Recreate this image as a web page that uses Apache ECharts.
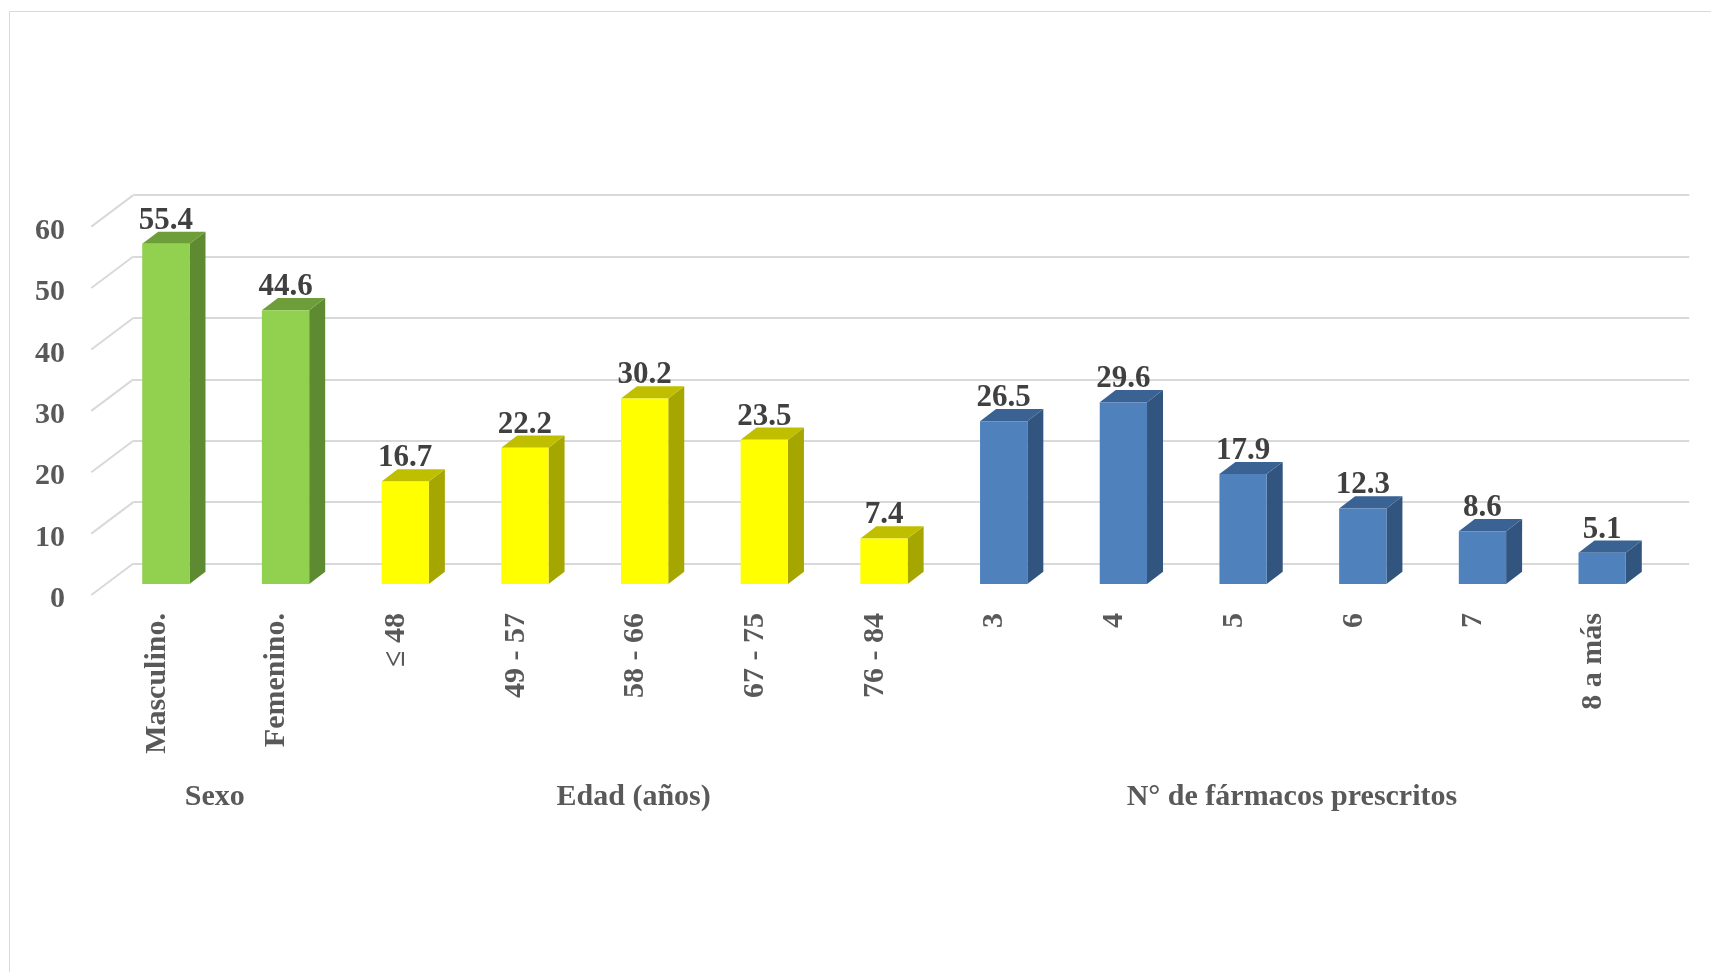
<!DOCTYPE html>
<html>
<head>
<meta charset="utf-8">
<script src="https://cdn.jsdelivr.net/npm/echarts@6/dist/echarts.min.js"></script>
<style>
  html, body { margin: 0; padding: 0; background: #ffffff; }
  #chart { width: 1711px; height: 972px; }
</style>
</head>
<body>
<div id="chart"></div>
<script>
// Categories, values and groups
const categories = ['Masculino.', 'Femenino.', '\u2264 48', '49 - 57', '58 - 66', '67 - 75', '76 - 84',
  '3', '4', '5', '6', '7', '8 a más'];
const values = [55.4, 44.6, 16.7, 22.2, 30.2, 23.5, 7.4, 26.5, 29.6, 17.9, 12.3, 8.6, 5.1];
const groupNames = ['Sexo', 'Edad (años)', 'N° de fármacos prescritos'];
const groupSizes = [2, 5, 6];
const yTicks = [0, 10, 20, 30, 40, 50, 60];

// Face colours per group: [front, side, top]
const palettes = [
  ['#92D050', '#5E8A31', '#6E9E3A'],
  ['#FFFF00', '#A6A600', '#BFBF00'],
  ['#4F81BD', '#325580', '#3A6393']
];

const FONT = "'Liberation Serif', 'Times New Roman', serif";
const LABEL_COLOR = '#595959';

// group index for each category
const groupOf = [];
groupSizes.forEach((n, g) => { for (let k = 0; k < n; k++) groupOf.push(g); });

// group centres in category index units
const groupData = [];
let start = 0;
groupSizes.forEach((n, g) => {
  groupData.push([start + (n - 1) / 2, groupNames[g]]);
  start += n;
});

// oblique depth: full floor depth and bar depth
const DEPTH_X = 42, DEPTH_Y = 31.5;
const BAR_DX = 16, BAR_DY = 12.2;

// layout of the three planes (bar plane, back wall, label plane)
const PLOT_W = 1556, PLOT_H = 368.4;
const BAR_LEFT = 106, BAR_TOP = 215.6;
const LABEL_SHIFT = 4.5;

const chart = echarts.init(document.getElementById('chart'), null, { renderer: 'canvas' });

const option = {
  backgroundColor: '#ffffff',
  animation: false,
  graphic: [{
    type: 'rect',
    shape: { x: 9.5, y: 11.5, width: 1720, height: 980 },
    style: { fill: 'none', stroke: '#D9D9D9', lineWidth: 1 },
    silent: true
  }],
  grid: [
    { left: BAR_LEFT, top: BAR_TOP, width: PLOT_W, height: PLOT_H },
    { left: BAR_LEFT + DEPTH_X * 0.65, top: BAR_TOP - DEPTH_Y * 0.65, width: PLOT_W, height: PLOT_H },
    { left: BAR_LEFT - 9, top: BAR_TOP + DEPTH_Y * 0.35 + LABEL_SHIFT, width: PLOT_W, height: PLOT_H }
  ],
  xAxis: [
    { gridIndex: 0, type: 'category', data: categories, show: false },
    { gridIndex: 1, type: 'value', min: 0, max: 1, show: false },
    {
      gridIndex: 2, type: 'category', data: categories,
      axisLine: { show: false }, axisTick: { show: false },
      axisLabel: {
        rotate: 90, margin: 18 - LABEL_SHIFT, interval: 0,
        fontFamily: FONT, fontWeight: 'bold', fontSize: 30, color: LABEL_COLOR
      }
    },
    { gridIndex: 2, type: 'value', min: -0.5, max: categories.length - 0.5, show: false }
  ],
  yAxis: [
    { gridIndex: 0, type: 'value', min: 0, max: 60, interval: 10, show: false },
    {
      gridIndex: 1, type: 'value', min: 0, max: 60, interval: 10,
      axisLine: { show: false }, axisTick: { show: false }, axisLabel: { show: false },
      splitLine: { show: true, lineStyle: { color: '#D9D9D9', width: 2 } }
    },
    {
      gridIndex: 2, type: 'value', min: 0, max: 60, interval: 10,
      axisLine: { show: false }, axisTick: { show: false }, splitLine: { show: false },
      axisLabel: {
        margin: 32,
        fontFamily: FONT, fontWeight: 'bold', fontSize: 30, color: LABEL_COLOR
      }
    }
  ],
  series: [
    {
      // side-wall diagonals joining the back gridlines to the front edge
      type: 'custom',
      xAxisIndex: 1, yAxisIndex: 1,
      data: yTicks,
      silent: true,
      z: 1,
      renderItem: function (params, api) {
        const p = api.coord([0, api.value(0)]);
        return {
          type: 'line',
          shape: { x1: p[0], y1: p[1], x2: p[0] - DEPTH_X, y2: p[1] + DEPTH_Y },
          style: { stroke: '#D9D9D9', lineWidth: 2 }
        };
      }
    },
    {
      // 3D columns: front face, side face, top face and value label
      type: 'custom',
      xAxisIndex: 0, yAxisIndex: 0,
      data: values.map((v, i) => [i, v]),
      z: 3,
      renderItem: function (params, api) {
        const i = api.value(0), v = api.value(1);
        const base = api.coord([i, 0]);
        const top = api.coord([i, v]);
        const bw = api.size([1, 0])[0] * 0.395;
        const x0 = base[0] - bw / 2, x1 = base[0] + bw / 2;
        const pal = palettes[groupOf[i]];
        return {
          type: 'group',
          children: [
            {
              type: 'polygon',
              shape: { points: [[x1, top[1]], [x1 + BAR_DX, top[1] - BAR_DY], [x1 + BAR_DX, base[1] - BAR_DY], [x1, base[1]]] },
              style: { fill: pal[1] }
            },
            {
              type: 'polygon',
              shape: { points: [[x0, top[1]], [x0 + BAR_DX, top[1] - BAR_DY], [x1 + BAR_DX, top[1] - BAR_DY], [x1, top[1]]] },
              style: { fill: pal[2] }
            },
            {
              type: 'rect',
              shape: { x: x0, y: top[1], width: bw, height: base[1] - top[1] },
              style: { fill: pal[0] }
            },
            {
              type: 'text',
              x: base[0], y: top[1] - BAR_DY + 4.5,
              style: {
                text: v.toFixed(1),
                align: 'center', verticalAlign: 'bottom',
                font: "bold 31px " + FONT,
                fill: '#404040'
              }
            }
          ]
        };
      }
    },
    {
      // group titles under the category labels
      type: 'custom',
      xAxisIndex: 3, yAxisIndex: 2,
      data: groupData,
      silent: true,
      z: 2,
      renderItem: function (params, api) {
        const p = api.coord([api.value(0), 0]);
        return {
          type: 'text',
          x: p[0] - 2, y: p[1] + 202 - LABEL_SHIFT,
          style: {
            text: groupData[params.dataIndex][1],
            align: 'center', verticalAlign: 'middle',
            font: "bold 30px " + FONT,
            fill: LABEL_COLOR
          }
        };
      }
    }
  ]
};

chart.setOption(option);
</script>
</body>
</html>
